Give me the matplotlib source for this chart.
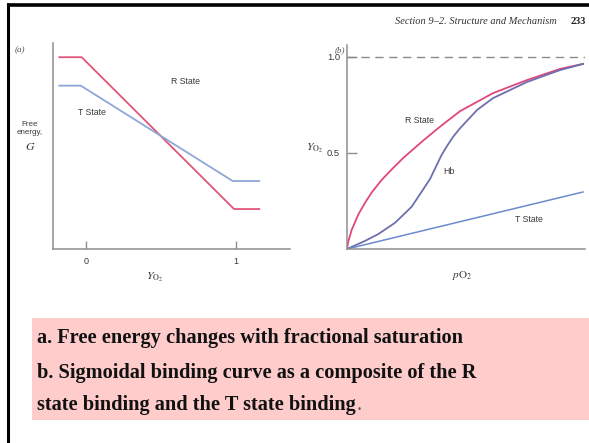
import matplotlib
matplotlib.use("Agg")
import matplotlib.pyplot as plt
from matplotlib.lines import Line2D
from matplotlib.patches import Rectangle

plt.rcParams['mathtext.fontset'] = 'stix'

# ---------------- data ----------------
# Panel (a): free energy vs fractional saturation
a_r_x = [-0.178, -0.029, 0.987, 1.155]
a_r_g = [0.931, 0.931, 0.194, 0.194]
a_t_x = [-0.178, -0.035, 0.978, 1.155]
a_t_g = [0.793, 0.793, 0.330, 0.330]
a_xticks = [0, 1]
a_xticklabels = ["0", "1"]

# Panel (b): binding curves
b_r_p = [0.0, 0.0055, 0.02, 0.048, 0.076, 0.105, 0.147, 0.190, 0.239, 0.323, 0.394, 0.479,
         0.619, 0.763, 0.903, 1.0]
b_r_y = [0.0, 0.040, 0.100, 0.180, 0.240, 0.295, 0.360, 0.415, 0.475, 0.565, 0.637, 0.718,
         0.812, 0.880, 0.938, 0.964]
b_hb_p = [0.0, 0.04, 0.076, 0.133, 0.203, 0.274, 0.309, 0.352, 0.380, 0.401, 0.422, 0.450,
          0.479, 0.551, 0.619, 0.763, 0.903, 1.0]
b_hb_y = [0.0, 0.022, 0.042, 0.078, 0.136, 0.220, 0.285, 0.365, 0.437, 0.490, 0.533, 0.585,
          0.629, 0.724, 0.786, 0.870, 0.932, 0.964]
b_t_p = [0.0, 1.0]
b_t_y = [0.0, 0.297]
b_yticks = [0.5, 1.0]
b_yticklabels = ["0.5", "1.0"]

caption_a = "a. Free energy changes with fractional saturation"
caption_b1 = "b. Sigmoidal binding curve as a composite of the R"
caption_b2 = "state binding and the T state binding"
header = "Section 9\u20132. Structure and Mechanism"
page = "233"

# ---------------- layout helpers ----------------
W, H = 589, 443
fig = plt.figure(figsize=(W / 100, H / 100), dpi=100)
fig.patch.set_facecolor("white")


def fx(x):
    return x / W


def fy(y):
    return 1 - y / H


def axes_px(left, top, right, bottom):
    return fig.add_axes([fx(left), fy(bottom), (right - left) / W, (bottom - top) / H])


AX_COL = "#8e8e8e"
TXT_COL = "#3a3a3a"
SANS = ["Liberation Sans", "DejaVu Sans"]
SERIF = ["Liberation Serif", "DejaVu Serif"]

# frame lines (top and left)
fig.add_artist(Line2D([fx(7), fx(589)], [fy(4.5), fy(4.5)], color="black", lw=2.6,
                      transform=fig.transFigure, solid_capstyle="butt"))
fig.add_artist(Line2D([fx(8), fx(8)], [fy(3.2), fy(443)], color="black", lw=2.2,
                      transform=fig.transFigure, solid_capstyle="butt"))

# ---------------- panel (a) ----------------
axa = axes_px(52.7, 43, 290, 249)
axa.plot(a_r_x, a_r_g, color="#e05679", lw=1.3)
axa.plot(a_t_x, a_t_g, color="#8ea7d6", lw=1.3)
axa.set_xlim(-0.222, 1.36)
axa.set_ylim(0, 1)
for s in ["top", "right"]:
    axa.spines[s].set_visible(False)
for s in ["left", "bottom"]:
    axa.spines[s].set_color(AX_COL)
    axa.spines[s].set_linewidth(1.1)
axa.set_yticks([])
axa.set_xticks(a_xticks)
axa.set_xticklabels(a_xticklabels, fontsize=6.5, color=TXT_COL, family=SANS)
axa.tick_params(axis="x", direction="in", length=6, width=1.0, color=AX_COL, pad=6)
axa.set_facecolor("none")

axa.text(0.56, 0.815, "R State", transform=axa.transAxes, fontsize=6.3, color=TXT_COL,
         family=SANS, ha="center", va="center")
axa.text(0.165, 0.665, "T State", transform=axa.transAxes, fontsize=6.3, color=TXT_COL,
         family=SANS, ha="center", va="center")

fig.text(fx(30), fy(124), "Free", fontsize=5.8, color=TXT_COL, family=SANS, ha="center", va="center")
fig.text(fx(30), fy(132), "energy,", fontsize=5.8, color=TXT_COL, family=SANS, ha="center", va="center")
fig.text(fx(30), fy(146), "$G$", fontsize=8.5, color=TXT_COL, ha="center", va="center")
fig.text(fx(20), fy(50), "(a)", fontsize=6.5, color="#555555", family=SERIF, style="italic",
         ha="center", va="center")
fig.text(fx(155), fy(277), r"$Y_{\mathrm{O_2}}$", fontsize=8.5, color=TXT_COL, ha="center", va="center")

# ---------------- panel (b) ----------------
axb = axes_px(347, 45, 585, 249)
axb.plot(b_r_p, b_r_y, color="#e0477a", lw=1.3)
axb.plot(b_hb_p, b_hb_y, color="#6d6fae", lw=1.3)
axb.plot(b_t_p, b_t_y, color="#6b8bcc", lw=1.1)
axb.axhline(1.0, color="#8a8a8a", lw=1.0, dashes=(6, 4))
axb.set_xlim(0, 238 / 236)
axb.set_ylim(0, 204 / 192)
for s in ["top", "right"]:
    axb.spines[s].set_visible(False)
for s in ["left", "bottom"]:
    axb.spines[s].set_color(AX_COL)
    axb.spines[s].set_linewidth(1.1)
axb.set_xticks([])
axb.set_yticks(b_yticks)
axb.set_yticklabels(b_yticklabels, fontsize=6.8, color=TXT_COL, family=SANS)
axb.tick_params(axis="y", direction="in", length=7, width=1.0, color=AX_COL, pad=5)
axb.set_facecolor("none")

axb.text(0.306, 0.628, "R State", transform=axb.transAxes, fontsize=6.3, color=TXT_COL,
         family=SANS, ha="center", va="center")
axb.text(0.428, 0.378, "Hb", transform=axb.transAxes, fontsize=6.3, color=TXT_COL,
         family=SANS, ha="center", va="center")
axb.text(0.765, 0.147, "T State", transform=axb.transAxes, fontsize=6.3, color=TXT_COL,
         family=SANS, ha="center", va="center")

fig.text(fx(340), fy(50), "(b)", fontsize=6.5, color="#555555", family=SERIF, style="italic",
         ha="center", va="center")
fig.text(fx(315), fy(148), r"$Y_{\mathrm{O_2}}$", fontsize=8.5, color=TXT_COL, ha="center", va="center")
fig.text(fx(462), fy(276), r"$p\mathrm{O}_2$", fontsize=8, color=TXT_COL, ha="center", va="center")

# header
fig.text(fx(557), fy(21), header, fontsize=7.5, color="#333333", family=SERIF, style="italic",
         ha="right", va="center")
fig.text(fx(586), fy(21), page, fontsize=7.5, color="#222222", family=SERIF, weight="bold",
         ha="right", va="center")

# ---------------- caption box ----------------
fig.add_artist(Rectangle((fx(32), fy(420)), (W - 32) / W, (420 - 318) / H,
                         transform=fig.transFigure, facecolor="#ffcccc", edgecolor="none"))
CAP_FS = 14.7
fig.text(fx(37), fy(343), caption_a, fontsize=CAP_FS, weight="bold", family=SERIF,
         color="#111111", ha="left", va="baseline")
fig.text(fx(37), fy(378), caption_b1, fontsize=CAP_FS, weight="bold", family=SERIF,
         color="#111111", ha="left", va="baseline")
t = fig.text(fx(37), fy(410), caption_b2, fontsize=CAP_FS, weight="bold", family=SERIF,
             color="#111111", ha="left", va="baseline")
fig.canvas.draw()
bb = t.get_window_extent()
fig.text(bb.x1 / fig.dpi / fig.get_figwidth() + 0.001, fy(410), ".", fontsize=CAP_FS,
         family=SERIF, color="#555555", ha="left", va="baseline")

fig.savefig("out.png", dpi=100, facecolor="white")
